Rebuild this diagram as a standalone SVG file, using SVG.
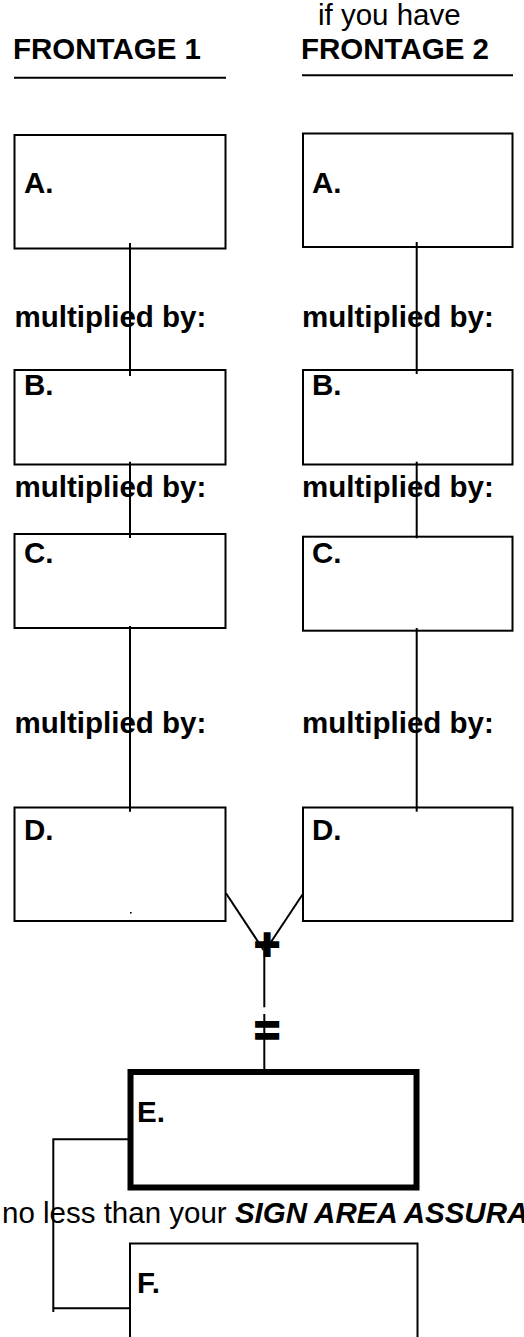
<svg xmlns="http://www.w3.org/2000/svg" width="524" height="1337" viewBox="0 0 524 1337">
<style>
text{font-family:"Liberation Sans",Arial,sans-serif;font-size:29.5px;fill:#000}
.b{font-weight:bold}
.box{fill:none;stroke:#000;stroke-width:2}
.thick{fill:none;stroke:#000;stroke-width:6}
.ln{fill:none;stroke:#000;stroke-width:2}
.op{font-weight:bold;font-size:44px;stroke:#000;stroke-width:2;text-anchor:middle}
</style>
<rect width="524" height="1337" fill="#fff"/>
<g id="headers">
<text x="13" y="59" class="b">FRONTAGE 1</text>
<line x1="14" y1="77.7" x2="226" y2="77.7" class="ln"/>
<text x="318" y="25">if you have</text>
<text x="301" y="59" class="b">FRONTAGE 2</text>
<line x1="302" y1="75.3" x2="513" y2="75.3" class="ln"/>
</g>
<g id="labels">
<text x="14.5" y="327" class="b">multiplied by:</text>
<text x="302" y="327" class="b">multiplied by:</text>
<text x="14.5" y="497" class="b">multiplied by:</text>
<text x="302" y="497" class="b">multiplied by:</text>
<text x="14.5" y="733" class="b">multiplied by:</text>
<text x="302" y="733" class="b">multiplied by:</text>
<text x="2" y="1223.3">no less than your <tspan font-weight="bold" font-style="italic">SIGN AREA ASSURANCE</tspan></text>
</g>
<g id="connectors">
<line x1="130" y1="243" x2="130" y2="376" class="ln"/>
<line x1="130" y1="461.7" x2="130" y2="538" class="ln"/>
<line x1="130" y1="626" x2="130" y2="811.7" class="ln"/>
<line x1="416.7" y1="242" x2="416.7" y2="374" class="ln"/>
<line x1="416.7" y1="461.7" x2="416.7" y2="538.3" class="ln"/>
<line x1="416.7" y1="628" x2="416.7" y2="811.7" class="ln"/>
<rect x="130" y="912" width="1.6" height="1.6" fill="#000"/>
<line x1="226" y1="893.3" x2="263.5" y2="950" class="ln"/>
<line x1="302.7" y1="894.3" x2="267" y2="948" class="ln"/>
<line x1="264.3" y1="950" x2="264.3" y2="1007.3" class="ln"/>
<line x1="264.3" y1="1014" x2="264.3" y2="1070" class="ln"/>
<text x="267" y="959.5" class="op">+</text>
<text x="267" y="1045.5" class="op">=</text>
<polyline points="128,1139.3 53.3,1139.3 53.3,1312" class="ln"/>
<line x1="53.3" y1="1308.3" x2="131" y2="1308.3" class="ln"/>
</g>
<g id="node-a1"><rect x="14.5" y="135" width="211" height="113.5" class="box"/><text x="24" y="192.7" class="b">A.</text></g>
<g id="node-a2"><rect x="303" y="133.5" width="209.5" height="113.5" class="box"/><text x="312" y="192.5" class="b">A.</text></g>
<g id="node-b1"><rect x="14.5" y="370" width="211" height="94.5" class="box"/><text x="24" y="395" class="b">B.</text></g>
<g id="node-b2"><rect x="303" y="370" width="209.5" height="94.5" class="box"/><text x="312" y="395" class="b">B.</text></g>
<g id="node-c1"><rect x="14.5" y="534" width="211" height="94" class="box"/><text x="24" y="563" class="b">C.</text></g>
<g id="node-c2"><rect x="303" y="536.7" width="209.5" height="94" class="box"/><text x="312" y="563" class="b">C.</text></g>
<g id="node-d1"><rect x="14.5" y="807.5" width="211" height="113.5" class="box"/><text x="24" y="840" class="b">D.</text></g>
<g id="node-d2"><rect x="303" y="807.5" width="209.5" height="113.5" class="box"/><text x="312" y="840" class="b">D.</text></g>
<g id="node-e"><rect x="130.5" y="1072" width="286" height="115.5" class="thick"/><text x="137" y="1121.7" class="b">E.</text></g>
<g id="node-f"><rect x="130" y="1243.5" width="287.5" height="200" class="box"/><text x="137" y="1292.7" class="b">F.</text></g>
</svg>
